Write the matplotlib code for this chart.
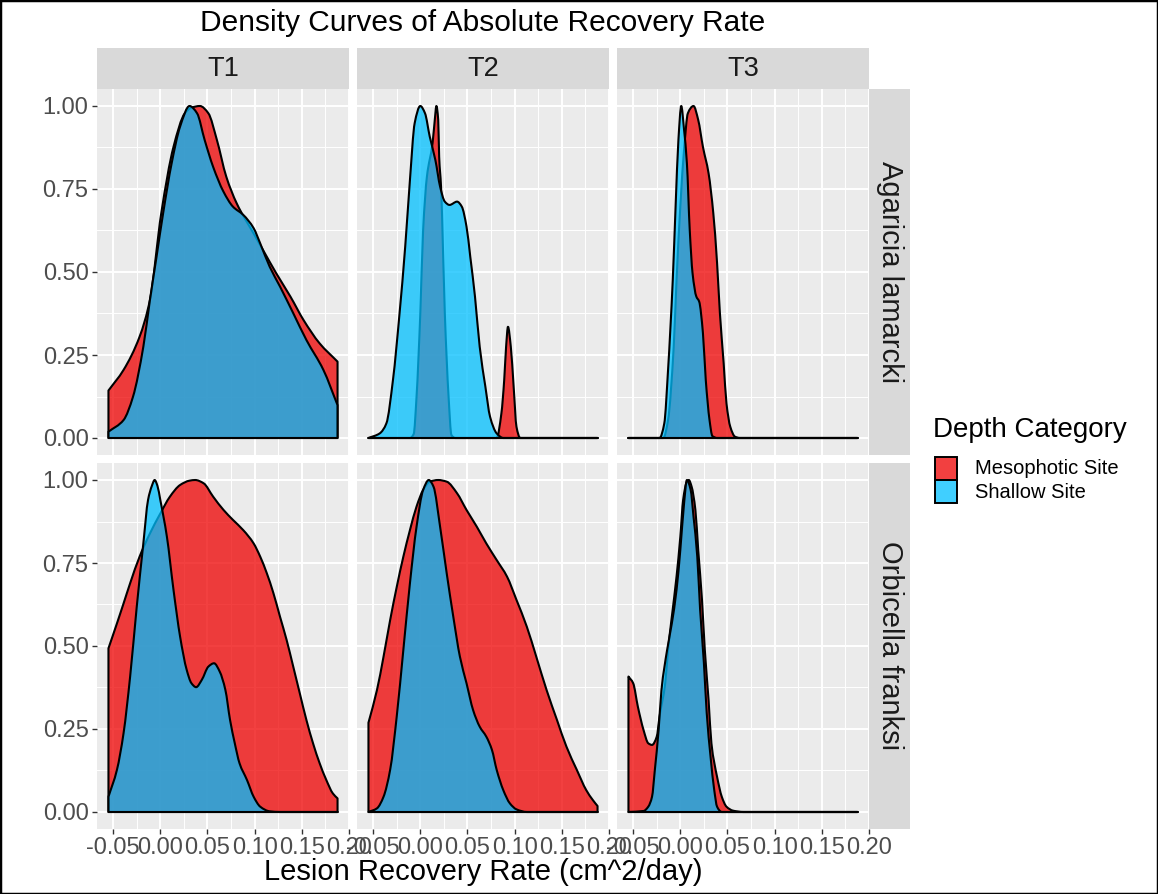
import numpy as np
import matplotlib.pyplot as plt
from matplotlib.patches import PathPatch, Rectangle
from matplotlib.path import Path

plt.rcParams['font.family'] = ['Liberation Sans', 'DejaVu Sans']

# facet labels
times = ['T1', 'T2', 'T3']
species = ['Agaricia lamarcki', 'Orbicella franksi']
groups = ['Mesophotic Site', 'Shallow Site']

# scaled density curves (x = recovery rate, y = density scaled to max 1)
aga_t1_meso_x = [-0.055, -0.039, -0.022, -0.011, 0.001, 0.014, 0.026, 0.033, 0.042, 0.051, 0.060, 0.070, 0.081,
                 0.099, 0.109, 0.123, 0.138, 0.152, 0.169, 0.188]
aga_t1_meso_y = [0.143, 0.205, 0.305, 0.416, 0.677, 0.877, 0.978, 0.995, 1.0, 0.978, 0.898, 0.787, 0.707,
                 0.616, 0.566, 0.496, 0.426, 0.355, 0.285, 0.230]
aga_t1_shal_x = [-0.055, -0.039, -0.029, -0.018, -0.011, -0.004, 0.003, 0.012, 0.021, 0.031, 0.039, 0.047, 0.056,
                 0.067, 0.077, 0.088, 0.099, 0.106, 0.116, 0.127, 0.141, 0.155, 0.173, 0.188]
aga_t1_shal_y = [0.019, 0.054, 0.124, 0.275, 0.416, 0.546, 0.677, 0.827, 0.938, 1.0, 0.978, 0.898, 0.817,
                 0.742, 0.697, 0.672, 0.632, 0.586, 0.516, 0.456, 0.376, 0.295, 0.205, 0.099]

aga_t2_meso_x = [-0.055, -0.011, -0.007, -0.004, 0.000, 0.003, 0.007, 0.013, 0.016, 0.017, 0.019, 0.020, 0.022,
                 0.023, 0.026, 0.030, 0.033, 0.037, 0.081, 0.086, 0.089, 0.091, 0.093, 0.096, 0.099, 0.102, 0.106,
                 0.188]
aga_t2_meso_y = [0.0, 0.0, 0.012, 0.124, 0.376, 0.627, 0.787, 0.888, 0.978, 1.0, 0.958, 0.847, 0.757,
                 0.677, 0.376, 0.124, 0.009, 0.0, 0.0, 0.074, 0.175, 0.275, 0.335, 0.275, 0.155, 0.034, 0.0,
                 0.0]
aga_t2_shal_x = [-0.055, -0.043, -0.036, -0.029, -0.022, -0.016, -0.011, -0.006, 0.000, 0.005, 0.010, 0.016, 0.021,
                 0.026, 0.031, 0.039, 0.044, 0.049, 0.053, 0.058, 0.063, 0.069, 0.074, 0.081, 0.088, 0.188]
aga_t2_shal_y = [0.0, 0.014, 0.044, 0.175, 0.376, 0.577, 0.777, 0.948, 1.0, 0.978, 0.908, 0.837, 0.757,
                 0.712, 0.702, 0.712, 0.697, 0.637, 0.546, 0.426, 0.275, 0.155, 0.064, 0.014, 0.0, 0.0]

aga_t3_meso_x = [-0.055, -0.018, -0.013, -0.007, -0.004, 0.000, 0.004, 0.008, 0.014, 0.019, 0.024, 0.030, 0.035,
                 0.039, 0.042, 0.046, 0.049, 0.053, 0.058, 0.063, 0.188]
aga_t3_meso_y = [0.0, 0.0, 0.054, 0.275, 0.476, 0.697, 0.868, 0.978, 1.0, 0.958, 0.877, 0.797, 0.677,
                 0.527, 0.376, 0.225, 0.104, 0.034, 0.004, 0.0, 0.0]
aga_t3_shal_x = [-0.055, -0.022, -0.017, -0.013, -0.008, -0.005, -0.002, 0.001, 0.004, 0.007, 0.010, 0.013, 0.017,
                 0.020, 0.024, 0.027, 0.031, 0.034, 0.039, 0.188]
aga_t3_shal_y = [0.0, 0.0, 0.044, 0.205, 0.476, 0.697, 0.898, 1.0, 0.928, 0.827, 0.627, 0.496, 0.426,
                 0.411, 0.316, 0.175, 0.054, 0.006, 0.0, 0.0]

orb_t1_meso_x = [-0.055, -0.046, -0.039, -0.032, -0.022, -0.011, 0.000, 0.010, 0.021, 0.031, 0.037, 0.046, 0.056,
                 0.067, 0.077, 0.088, 0.099, 0.106, 0.113, 0.120, 0.127, 0.134, 0.141, 0.148, 0.155, 0.162, 0.169,
                 0.176, 0.183, 0.188]
orb_t1_meso_y = [0.493, 0.568, 0.628, 0.689, 0.769, 0.839, 0.899, 0.949, 0.985, 0.998, 1.0, 0.990, 0.950,
                 0.910, 0.880, 0.849, 0.809, 0.769, 0.719, 0.659, 0.588, 0.518, 0.438, 0.357, 0.277, 0.207, 0.147,
                 0.097, 0.056, 0.041]
orb_t1_shal_x = [-0.055, -0.046, -0.039, -0.032, -0.025, -0.018, -0.013, -0.009, -0.006, -0.003, 0.000, 0.007,
                 0.014, 0.021, 0.028, 0.033, 0.038, 0.044, 0.051, 0.057, 0.063, 0.069, 0.074, 0.079, 0.084, 0.092,
                 0.099, 0.106, 0.116, 0.127, 0.188]
orb_t1_shal_y = [0.046, 0.127, 0.237, 0.408, 0.618, 0.809, 0.940, 0.982, 1.0, 0.982, 0.940, 0.829,
                 0.669, 0.528, 0.428, 0.388, 0.376, 0.398, 0.438, 0.448, 0.423, 0.368, 0.277, 0.207, 0.147, 0.096,
                 0.046, 0.016, 0.002, 0.0, 0.0]

orb_t2_meso_x = [-0.055, -0.046, -0.039, -0.032, -0.025, -0.018, -0.011, -0.004, 0.003, 0.010, 0.019, 0.028, 0.039,
                 0.049, 0.060, 0.070, 0.081, 0.092, 0.102, 0.113, 0.123, 0.134, 0.145, 0.155, 0.166, 0.176, 0.183,
                 0.188]
orb_t2_meso_y = [0.269, 0.367, 0.468, 0.578, 0.678, 0.769, 0.849, 0.920, 0.970, 0.995, 1.0, 0.995, 0.960,
                 0.910, 0.859, 0.809, 0.759, 0.709, 0.639, 0.558, 0.468, 0.367, 0.277, 0.197, 0.127, 0.066, 0.036,
                 0.018]
orb_t2_shal_x = [-0.055, -0.046, -0.039, -0.032, -0.025, -0.018, -0.011, -0.004, 0.003, 0.009, 0.014, 0.021, 0.028,
                 0.035, 0.042, 0.049, 0.056, 0.063, 0.070, 0.076, 0.081, 0.088, 0.095, 0.102, 0.113, 0.188]
orb_t2_shal_y = [0.0, 0.011, 0.046, 0.127, 0.288, 0.488, 0.689, 0.859, 0.970, 1.0, 0.980, 0.859, 0.719,
                 0.588, 0.468, 0.388, 0.307, 0.257, 0.227, 0.187, 0.127, 0.066, 0.026, 0.008, 0.0, 0.0]

orb_t3_meso_x = [-0.055, -0.050, -0.045, -0.039, -0.034, -0.030, -0.025, -0.022, -0.016, -0.013, -0.009, -0.004,
                 0.000, 0.003, 0.007, 0.009, 0.012, 0.016, 0.019, 0.023, 0.026, 0.030, 0.033, 0.039, 0.044, 0.049,
                 0.056, 0.067, 0.188]
orb_t3_meso_y = [0.408, 0.388, 0.317, 0.247, 0.207, 0.202, 0.227, 0.288, 0.388, 0.488, 0.588, 0.709,
                 0.829, 0.940, 0.995, 1.0, 0.980, 0.910, 0.789, 0.639, 0.488, 0.337, 0.207, 0.106, 0.046, 0.016,
                 0.004, 0.0, 0.0]
orb_t3_shal_x = [-0.055, -0.039, -0.034, -0.030, -0.027, -0.023, -0.020, -0.014, -0.009, -0.004, 0.000, 0.004,
                 0.007, 0.011, 0.014, 0.018, 0.021, 0.025, 0.028, 0.032, 0.036, 0.039, 0.044, 0.188]
orb_t3_shal_y = [0.0, 0.003, 0.016, 0.046, 0.127, 0.247, 0.367, 0.488, 0.568, 0.669, 0.789, 0.930,
                 1.0, 0.970, 0.890, 0.769, 0.610, 0.450, 0.299, 0.169, 0.066, 0.016, 0.0, 0.0]

curves = [
    [((aga_t1_meso_x, aga_t1_meso_y), (aga_t1_shal_x, aga_t1_shal_y)),
     ((aga_t2_meso_x, aga_t2_meso_y), (aga_t2_shal_x, aga_t2_shal_y)),
     ((aga_t3_meso_x, aga_t3_meso_y), (aga_t3_shal_x, aga_t3_shal_y))],
    [((orb_t1_meso_x, orb_t1_meso_y), (orb_t1_shal_x, orb_t1_shal_y)),
     ((orb_t2_meso_x, orb_t2_meso_y), (orb_t2_shal_x, orb_t2_shal_y)),
     ((orb_t3_meso_x, orb_t3_meso_y), (orb_t3_shal_x, orb_t3_shal_y))],
]

x_ticks = [-0.05, 0.0, 0.05, 0.10, 0.15, 0.20]
x_ticklabels = ['-0.05', '0.00', '0.05', '0.10', '0.15', '0.20']
y_ticks = [0.0, 0.25, 0.5, 0.75, 1.0]
y_ticklabels = ['0.00', '0.25', '0.50', '0.75', '1.00']

fill_colors = ['#EE0000', '#00BFFF']
ALPHA = 0.75


def density_path(xs, ys):
    """Closed area path: straight edges down to the baseline, bezier segments
    through the curve points (monotone cubic tangents, so no overshoot)."""
    xs = np.asarray(xs, float)
    ys = np.asarray(ys, float)
    h = np.diff(xs)
    d = np.diff(ys) / h
    m = np.zeros_like(ys)
    m[0], m[-1] = d[0], d[-1]
    for k in range(1, len(xs) - 1):
        if d[k - 1] * d[k] > 0:
            w1 = 2 * h[k] + h[k - 1]
            w2 = h[k] + 2 * h[k - 1]
            m[k] = (w1 + w2) / (w1 / d[k - 1] + w2 / d[k])
    verts = [(xs[0], 0.0), (xs[0], ys[0])]
    codes = [Path.MOVETO, Path.LINETO]
    for k in range(len(xs) - 1):
        verts += [(xs[k] + h[k] / 3, ys[k] + m[k] * h[k] / 3),
                  (xs[k + 1] - h[k] / 3, ys[k + 1] - m[k + 1] * h[k] / 3),
                  (xs[k + 1], ys[k + 1])]
        codes += [Path.CURVE4] * 3
    verts += [(xs[-1], 0.0), (xs[0], 0.0)]
    codes += [Path.LINETO, Path.CLOSEPOLY]
    return Path(verts, codes)


W, H = 1158, 894
fig = plt.figure(figsize=(W / 100, H / 100), dpi=100)


def box(left, top, right, bottom):
    return [left / W, 1 - bottom / H, (right - left) / W, (bottom - top) / H]


col_left = [97, 357, 617]
col_w = 252
row_top = [89.4, 463.4]
row_h = 365.2

for r in range(2):
    for c in range(3):
        ax = fig.add_axes(box(col_left[c], row_top[r], col_left[c] + col_w, row_top[r] + row_h))
        ax.set_facecolor('#EBEBEB')
        ax.set_xlim(-0.06715, 0.20015)
        ax.set_ylim(-0.05, 1.05)
        ax.set_xticks(x_ticks)
        ax.set_xticklabels(x_ticklabels)
        ax.set_yticks(y_ticks)
        ax.set_yticklabels(y_ticklabels)
        ax.set_xticks([-0.025, 0.025, 0.075, 0.125, 0.175], minor=True)
        ax.set_yticks([0.125, 0.375, 0.625, 0.875], minor=True)
        ax.grid(which='major', color='white', lw=1.4)
        ax.grid(which='minor', color='white', lw=0.7)
        ax.set_axisbelow(True)
        for s in ax.spines.values():
            s.set_visible(False)
        ax.tick_params(which='minor', length=0)
        ax.tick_params(which='major', length=3.6, width=1.0, color='#333333',
                       labelcolor='#4D4D4D', labelsize=17, pad=2.5)
        if c > 0:
            ax.tick_params(axis='y', left=False, labelleft=False)
        if r == 0:
            ax.tick_params(axis='x', bottom=False, labelbottom=False)

        for g, (xs, ys) in enumerate(curves[r][c]):
            path = density_path(xs, ys)
            ax.add_patch(PathPatch(path, facecolor=fill_colors[g], alpha=ALPHA,
                                   edgecolor='none', zorder=2 + g))
            ax.add_patch(PathPatch(path, facecolor='none', edgecolor='black',
                                   lw=1.5, joinstyle='round', zorder=2 + g))

# strips
for c in range(3):
    sax = fig.add_axes(box(col_left[c], 48, col_left[c] + col_w, 89.4))
    sax.set_facecolor('#D9D9D9')
    sax.set_xticks([])
    sax.set_yticks([])
    for s in sax.spines.values():
        s.set_visible(False)
    sax.text(0.5, 0.5, times[c], ha='center', va='center', fontsize=19.5, color='#1A1A1A',
             transform=sax.transAxes)

for r in range(2):
    sax = fig.add_axes(box(869, row_top[r], 910, row_top[r] + row_h))
    sax.set_facecolor('#D9D9D9')
    sax.set_xticks([])
    sax.set_yticks([])
    for s in sax.spines.values():
        s.set_visible(False)
    sax.text(0.5, 0.5, species[r], ha='center', va='center', rotation=-90, fontsize=21,
             color='#1A1A1A', transform=sax.transAxes)

fig.text(483 / W, 1 - 23 / H, 'Density Curves of Absolute Recovery Rate', ha='center', va='center',
         fontsize=21.5)
fig.text(483 / W, 1 - 872 / H, 'Lesion Recovery Rate (cm^2/day)', ha='center', va='center', fontsize=21)

# legend
fig.text(933 / W, 1 - 437 / H, 'Depth Category', ha='left', va='baseline', fontsize=20)
for g, label in enumerate(groups):
    top = 457 + g * 23.5
    fig.add_artist(Rectangle((935 / W, 1 - (top + 23) / H), 22 / W, 23 / H, transform=fig.transFigure,
                             facecolor=fill_colors[g], alpha=ALPHA, edgecolor='none'))
    fig.add_artist(Rectangle((935 / W, 1 - (top + 23) / H), 22 / W, 23 / H, transform=fig.transFigure,
                             facecolor='none', edgecolor='black', lw=1.4))
    fig.text(975 / W, 1 - (top + 11.5) / H, label, ha='left', va='center', fontsize=14.5)

fig.add_artist(Rectangle((0, 0), 1, 1, transform=fig.transFigure, fill=False, edgecolor='black', lw=2.5))

fig.savefig('out.png', dpi=100)
